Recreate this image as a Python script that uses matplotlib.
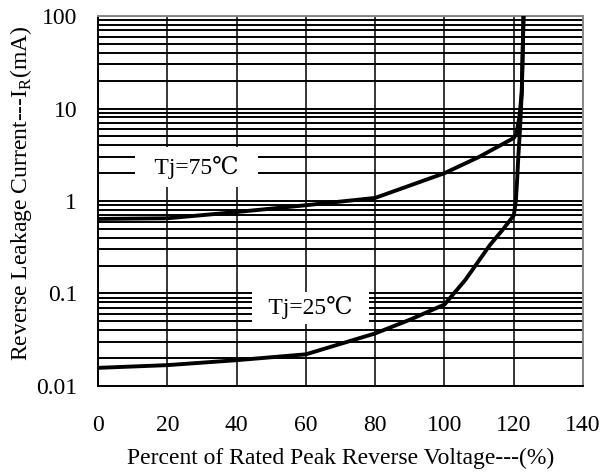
import matplotlib
matplotlib.use('Agg')
import matplotlib.pyplot as plt
from matplotlib.ticker import FixedLocator, FixedFormatter, LogLocator, NullFormatter

plt.rcParams['font.family'] = ['Liberation Serif', 'DejaVu Serif']

# Tj = 75 C curve
x75 = [0, 20, 40, 60, 80, 100, 110, 120, 120.7, 121.6, 122.3, 122.8]
y75 = [0.64, 0.65, 0.76, 0.90, 1.08, 2.0, 3.0, 4.8, 5.3, 8.0, 15, 100]
# Tj = 25 C curve
x25 = [0, 20, 40, 60, 80, 90, 100, 106, 113, 117, 120, 120.6, 121.0, 121.3, 121.8, 122.3, 122.8]
y25 = [0.0157, 0.0168, 0.019, 0.022, 0.037, 0.052, 0.076, 0.14, 0.33, 0.5, 0.7, 1.0, 1.8, 3.0, 6.0, 15, 100]

x_ticks = [0, 20, 40, 60, 80, 100, 120, 140]
y_ticks = [0.01, 0.1, 1, 10, 100]
y_tick_labels = ['0.01', '0.1', '1', '10', '100']

fig = plt.figure(figsize=(6.03, 4.74), dpi=100)
ax = fig.add_axes([0.1625, 0.1857, 0.8045, 0.7805])

ax.set_yscale('log')
ax.set_xlim(0, 140)
ax.set_ylim(0.01, 100)

ax.plot(x75, y75, color='black', lw=2.8, zorder=4, solid_joinstyle='round')
ax.plot(x25, y25, color='black', lw=2.8, zorder=4, solid_joinstyle='round')

ax.xaxis.set_major_locator(FixedLocator(x_ticks))
ax.yaxis.set_major_locator(FixedLocator(y_ticks))
ax.yaxis.set_major_formatter(FixedFormatter(y_tick_labels))
ax.yaxis.set_minor_locator(LogLocator(base=10, subs=range(2, 10)))
ax.yaxis.set_minor_formatter(NullFormatter())

ax.grid(True, which='major', axis='x', color='black', lw=1.1)
ax.grid(True, which='both', axis='y', color='black', lw=1.4)
ax.set_axisbelow(True)

ax.tick_params(which='both', length=0)
ax.tick_params(axis='y', pad=15, labelsize=17)
ax.tick_params(axis='x', pad=21, labelsize=17)

for s in ['left', 'bottom']:
    ax.spines[s].set_color('black')
    ax.spines[s].set_linewidth(1.4)
for s in ['top', 'right']:
    ax.spines[s].set_color('#888888')
    ax.spines[s].set_linewidth(1.4)

ax.set_xlabel('Percent of Rated Peak Reverse Voltage---(%)', fontsize=17)
ax.xaxis.set_label_coords(0.5, -0.168)
ax.set_ylabel('Reverse Leakage Current---I$_\\mathregular{R}$(mA)', fontsize=17)
ax.yaxis.set_label_coords(-0.132, 0.522)

ax.text(28.4, 2.33, '  Tj=75℃  ', fontsize=17, ha='center', va='center',
        bbox=dict(boxstyle='square,pad=0.35', facecolor='white', edgecolor='none'), zorder=3)
ax.text(61.3, 0.07, '  Tj=25℃  ', fontsize=17, ha='center', va='center',
        bbox=dict(boxstyle='square,pad=0.2', facecolor='white', edgecolor='none'), zorder=3)

fig.savefig('out.png', dpi=100)
